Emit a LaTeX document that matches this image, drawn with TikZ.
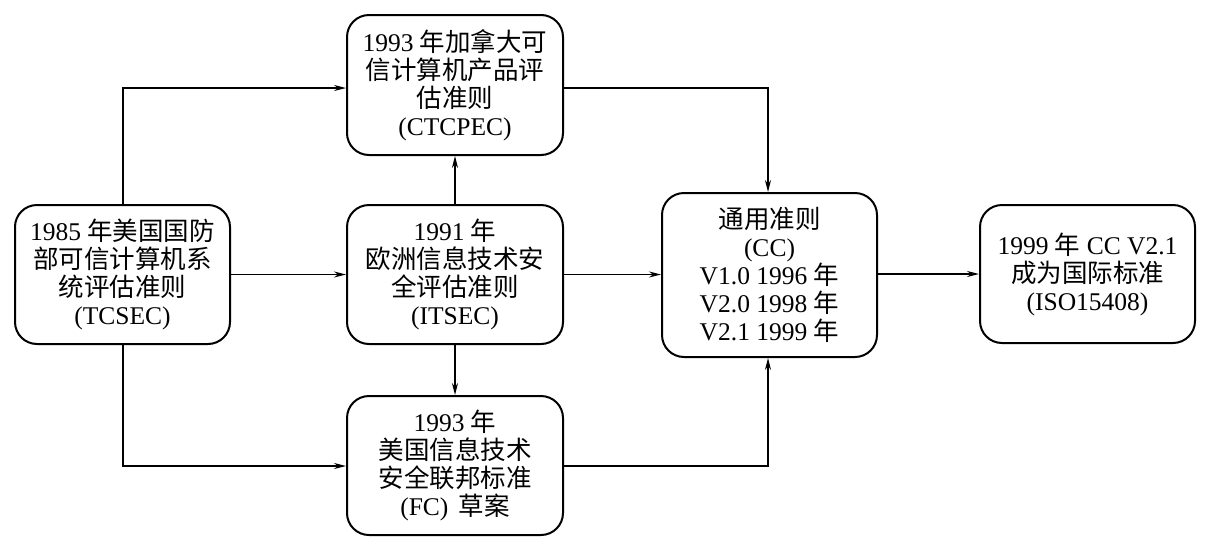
\documentclass[tikz,border=0pt]{standalone}
\usepackage{fontspec}
\setmainfont{Liberation Serif}
\newfontfamily\cjk{Noto Sans CJK SC}
\usetikzlibrary{arrows.meta}
\tikzset{
  box/.style={draw, line width=2pt, rounded corners=22pt, align=center,
    inner sep=0pt, font=\fontsize{25.5}{28}\selectfont},
  conn/.style={line width=1.4pt, -{Stealth[length=12pt,width=6pt]}}
}
\begin{document}
\begin{tikzpicture}[x=1pt,y=-1pt]
\useasboundingbox (0,0) rectangle (1219,555);
\node[box, minimum width=215pt, minimum height=139pt] (tcsec) at (122.5,274.5)
  {1985 {\cjk 年美国国防}\\{\cjk 部可信计算机系}\\{\cjk 统评估准则}\\(TCSEC)};
\node[box, minimum width=216pt, minimum height=140pt] (ctcpec) at (455,85)
  {1993 {\cjk 年加拿大可}\\{\cjk 信计算机产品评}\\{\cjk 估准则}\\(CTCPEC)};
\node[box, minimum width=216pt, minimum height=139pt] (itsec) at (455,274.5)
  {1991 {\cjk 年}\\{\cjk 欧洲信息技术安}\\{\cjk 全评估准则}\\(ITSEC)};
\node[box, minimum width=216pt, minimum height=139pt] (fc) at (455,465.5)
  {1993 {\cjk 年}\\{\cjk 美国信息技术}\\{\cjk 安全联邦标准}\\(FC)\hspace{0.4em}{\cjk 草案}};
\node[box, minimum width=215pt, minimum height=164pt] (cc) at (769.5,275)
  {{\cjk 通用准则}\\(CC)\\V1.0 1996 {\cjk 年}\\V2.0 1998 {\cjk 年}\\V2.1 1999 {\cjk 年}};
\node[box, minimum width=215pt, minimum height=138pt] (iso) at (1087.5,274)
  {1999 {\cjk 年} CC V2.1\\{\cjk 成为国际标准}\\(ISO15408)};
\coordinate (tu) at (123,88);
\coordinate (td) at (123,466);
\coordinate (ru) at (768,88);
\coordinate (rd) at (768,466);
\draw[conn] (tcsec.north -| tu) -- (tu) -- (ctcpec.west |- tu);
\draw[conn] (tcsec.south -| td) -- (td) -- (fc.west |- td);
\draw[conn] (tcsec.east) -- (itsec.west);
\draw[conn] (itsec.north) -- (ctcpec.south);
\draw[conn] (itsec.south) -- (fc.north);
\draw[conn] (ctcpec.east |- ru) -- (ru) -- (cc.north -| ru);
\draw[conn] (fc.east |- rd) -- (rd) -- (cc.south -| rd);
\draw[conn] (itsec.east) -- (cc.west |- itsec.east);
\draw[conn] (cc.east |- iso.west) -- (iso.west);
\end{tikzpicture}
\end{document}
